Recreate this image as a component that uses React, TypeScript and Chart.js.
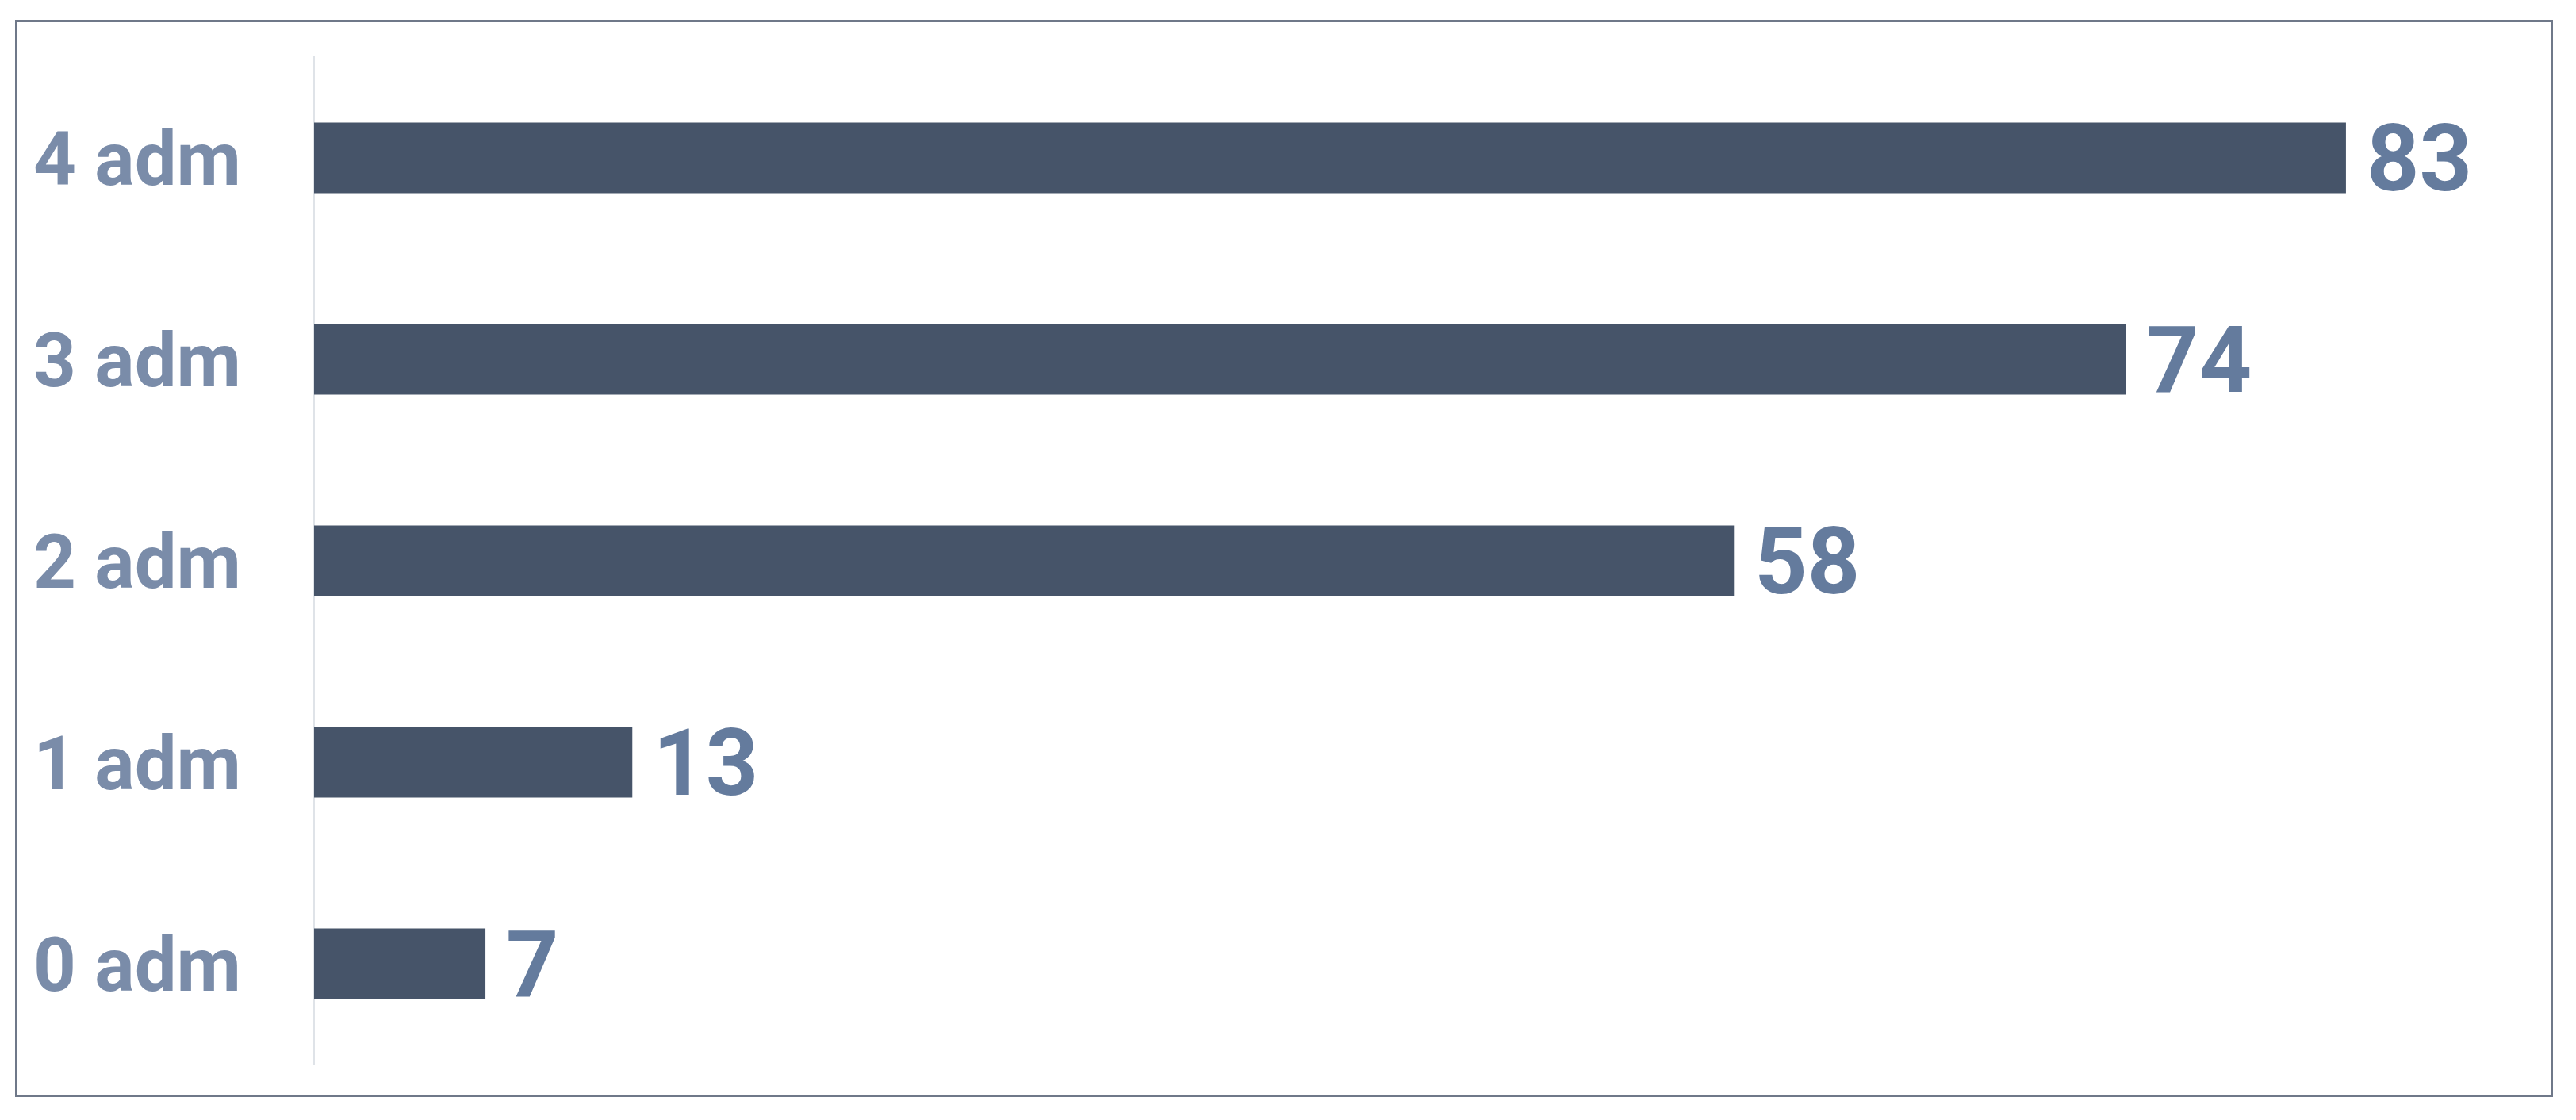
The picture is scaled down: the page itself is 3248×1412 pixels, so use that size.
import React, { useEffect, useRef } from "react";
import { Chart, registerables } from "chart.js";

Chart.register(...registerables);

const categories = ["4 adm", "3 adm", "2 adm", "1 adm", "0 adm"];
const values = [83, 74, 58, 13, 7];

const FONT = "Roboto, 'Open Sans', sans-serif";

const valueLabels = {
  id: "valueLabels",
  afterDatasetsDraw(chart: any) {
    const ctx = chart.ctx;
    const meta = chart.getDatasetMeta(0);
    ctx.save();
    ctx.font = `bold 116px ${FONT}`;
    ctx.fillStyle = "#647b9d";
    ctx.textAlign = "left";
    ctx.textBaseline = "middle";
    meta.data.forEach((bar: any, i: number) => {
      ctx.fillText(String(values[i]), bar.x + 26, bar.y + 12);
    });
    ctx.restore();
  },
};

export default function App() {
  const ref = useRef<HTMLCanvasElement | null>(null);
  useEffect(() => {
    document.body.style.margin = "0";
    const chart = new Chart(ref.current!, {
      type: "bar",
      data: {
        labels: categories,
        datasets: [
          {
            data: values,
            backgroundColor: "#465469",
            borderWidth: 0,
            categoryPercentage: 1,
            barPercentage: 0.35,
          },
        ],
      },
      options: {
        indexAxis: "y",
        animation: false,
        responsive: false,
        maintainAspectRatio: false,
        devicePixelRatio: 1,
        layout: { padding: { top: 72, bottom: 70, left: 0, right: 74 } },
        plugins: { legend: { display: false }, tooltip: { enabled: false } },
        scales: {
          x: { display: false, min: 0, max: 90 },
          y: {
            afterFit(scale: any) {
              scale.width = 396;
            },
            grid: {
              display: true,
              drawOnChartArea: false,
              drawTicks: true,
              tickLength: 92,
              tickColor: "rgba(0,0,0,0)",
            },
            border: { display: true, color: "#dfe3e8", width: 2 },
            ticks: {
              padding: 0,
              labelOffset: 10,
              color: "#7a8ca9",
              font: { family: FONT, size: 94, weight: "bold" },
            },
          },
        },
      },
      plugins: [valueLabels],
    });
    return () => chart.destroy();
  }, []);
  return (
    <div style={{ position: "relative", width: 3248, height: 1412, background: "#fff" }}>
      <div
        style={{
          position: "absolute",
          left: 19,
          top: 25,
          width: 3200,
          height: 1358,
          border: "3px solid #6f7889",
          boxSizing: "border-box",
        }}
      />
      <canvas ref={ref} width={3248} height={1412} style={{ position: "absolute", left: 0, top: 0, width: 3248, height: 1412 }} />
    </div>
  );
}
